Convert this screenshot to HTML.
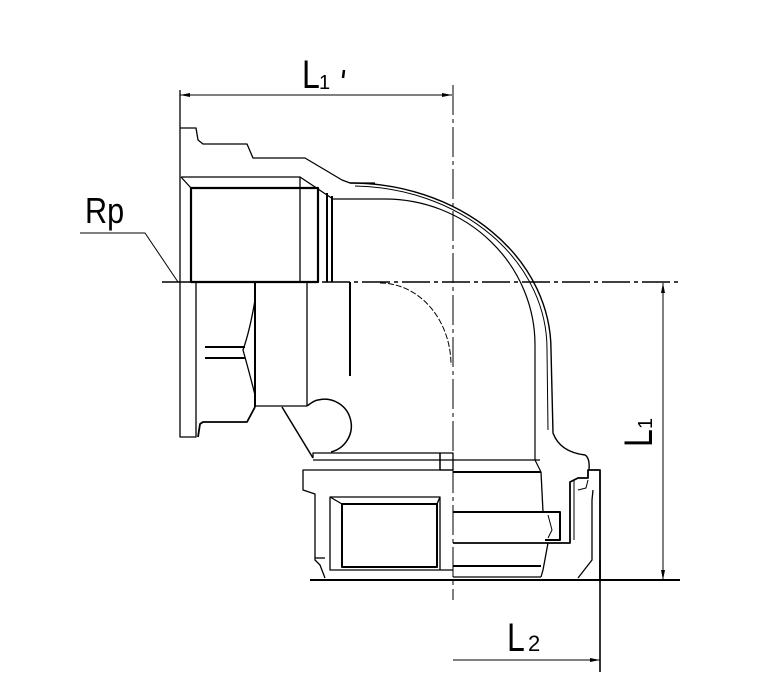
<!DOCTYPE html>
<html><head><meta charset="utf-8"><style>
html,body{margin:0;padding:0;background:#fff;}
svg{display:block;}
text{font-family:"Liberation Sans",sans-serif;fill:#000;}
</style></head><body>
<svg width="775" height="676" viewBox="0 0 775 676" xmlns="http://www.w3.org/2000/svg">
<g fill="none" stroke="#000" stroke-width="1.3" stroke-linejoin="round">
<line x1="162" y1="282" x2="680" y2="282" stroke-width="1.6" stroke-dasharray="28,4,4,4"/>
<line x1="453" y1="85" x2="453" y2="600" stroke-width="1" stroke-dasharray="30,4,4,4"/>
<polyline points="180,90 180,437 196,437 196,282"/>
<polyline points="180,128 196,128 198,140 203,144 247,144 253,158 305,158 342,180 350,183 375,183"/>
<path d="M350,183 A201,167 0 0 1 551,350 L553,433 Q560,452 585,455 Q590,458 589,470" stroke-width="1.4"/>
<path d="M355,186 A196,163 0 0 1 547,350 L548,430" stroke-width="1"/>
<path d="M333,199 L385,199 A150,146 0 0 1 535,345 L535,460 L541,472" stroke-width="1.2"/>
<path d="M380,283 A71,82 0 0 1 451,365" stroke-width="1" stroke-dasharray="6,2"/>
<polyline points="181,177 300,177 300,282"/>
<line x1="181" y1="177" x2="191" y2="188"/>
<line x1="300" y1="177" x2="333" y2="199"/>
<rect x="191" y="188" width="127" height="94" stroke-width="2.2"/>
<line x1="327" y1="193" x2="327" y2="282" stroke-width="2"/>
<line x1="332" y1="196" x2="332" y2="282" stroke-width="2"/>
<line x1="255" y1="282" x2="255" y2="407" stroke-width="2"/>
<line x1="307" y1="282" x2="307" y2="406"/>
<line x1="255" y1="406" x2="307" y2="406"/>
<line x1="350" y1="282" x2="350" y2="376" stroke-width="2"/>
<path d="M255,300 Q250,330 243,350 Q250,375 255,395" stroke-width="1.3"/>
<line x1="205" y1="347" x2="245" y2="347" stroke-width="2"/>
<line x1="205" y1="358" x2="245" y2="358" stroke-width="2"/>
<polyline points="198,437 200,424 203,422 247,422 255,407" stroke-width="1.8"/>
<path d="M307,406 Q315,400 318,400 A22,22 0 1 1 331,452" stroke-width="1.5"/>
<line x1="282" y1="407" x2="313" y2="458" stroke-width="1.5"/>
<polyline points="313,458 313,453 440,453 440,470"/>
<line x1="313" y1="460" x2="540" y2="460"/>
<rect x="440" y="453" width="13" height="17"/>
<polyline points="453,470 303,470 303,490 315,494 315,560 320,565 325,578"/>
<line x1="315" y1="558" x2="325" y2="558"/>
<polyline points="453,570 330,570 330,497 440,497 440,570"/>
<rect x="342" y="504" width="95" height="63" stroke-width="2"/>
<line x1="330" y1="497" x2="342" y2="504"/>
<line x1="440" y1="497" x2="437" y2="504"/>
<line x1="453" y1="472" x2="541" y2="472" stroke-width="2"/>
<line x1="541" y1="472" x2="543" y2="512"/>
<polyline points="453,512 560,512 560,540 545,540" stroke-width="2"/>
<polyline points="453,543 570,543 570,482 578,478 588,478 588,470 600,470 600,580" stroke-width="1.8"/>
<path d="M574,480 L574,540 M578,490 L586,488 L588,480 M548,515 L552,530 L548,538" stroke-width="1"/>
<polyline points="548,543 543,570 541,577"/>
<line x1="453" y1="566" x2="541" y2="566" stroke-width="2"/>
<line x1="453" y1="577" x2="541" y2="577"/>
<polyline points="593,490 592,500 592,560 578,578"/>
<line x1="310" y1="580" x2="680" y2="580" stroke-width="2"/>
<line x1="180" y1="95" x2="452" y2="95" stroke-width="1"/>
<polygon points="180,95 190,93 190,97" fill="#000" stroke="none"/>
<polygon points="452,95 442,93 442,97" fill="#000" stroke="none"/>
<line x1="663" y1="283" x2="663" y2="580" stroke-width="1"/>
<polygon points="663,283 661,293 665,293" fill="#000" stroke="none"/>
<polygon points="663,580 661,570 665,570" fill="#000" stroke="none"/>
<line x1="453" y1="660" x2="600" y2="660" stroke-width="1"/>
<polygon points="600,660 590,658 590,662" fill="#000" stroke="none"/>
<line x1="600" y1="560" x2="600" y2="672" stroke-width="1.6"/>
<polyline points="80,233 145,233 178,282" stroke-width="1"/>
<line x1="344" y1="70" x2="343" y2="78" stroke-width="2.5"/>
</g>
<text x="302" y="88" font-size="40" transform="translate(302 0) scale(0.8 1) translate(-302 0)">L</text>
<text x="319" y="89" font-size="20">1</text>
<text x="85" y="223" font-size="36" transform="translate(85 0) scale(0.85 1) translate(-85 0)">Rp</text>
<text x="507" y="651" font-size="40" transform="translate(507 0) scale(0.8 1) translate(-507 0)">L</text>
<text x="528" y="651" font-size="22">2</text>
<g transform="translate(652 447) rotate(-90)">
<text x="0" y="0" font-size="40" transform="scale(0.8 1)">L</text>
<text x="18" y="0" font-size="20">1</text>
</g>
</svg>
</body></html>
